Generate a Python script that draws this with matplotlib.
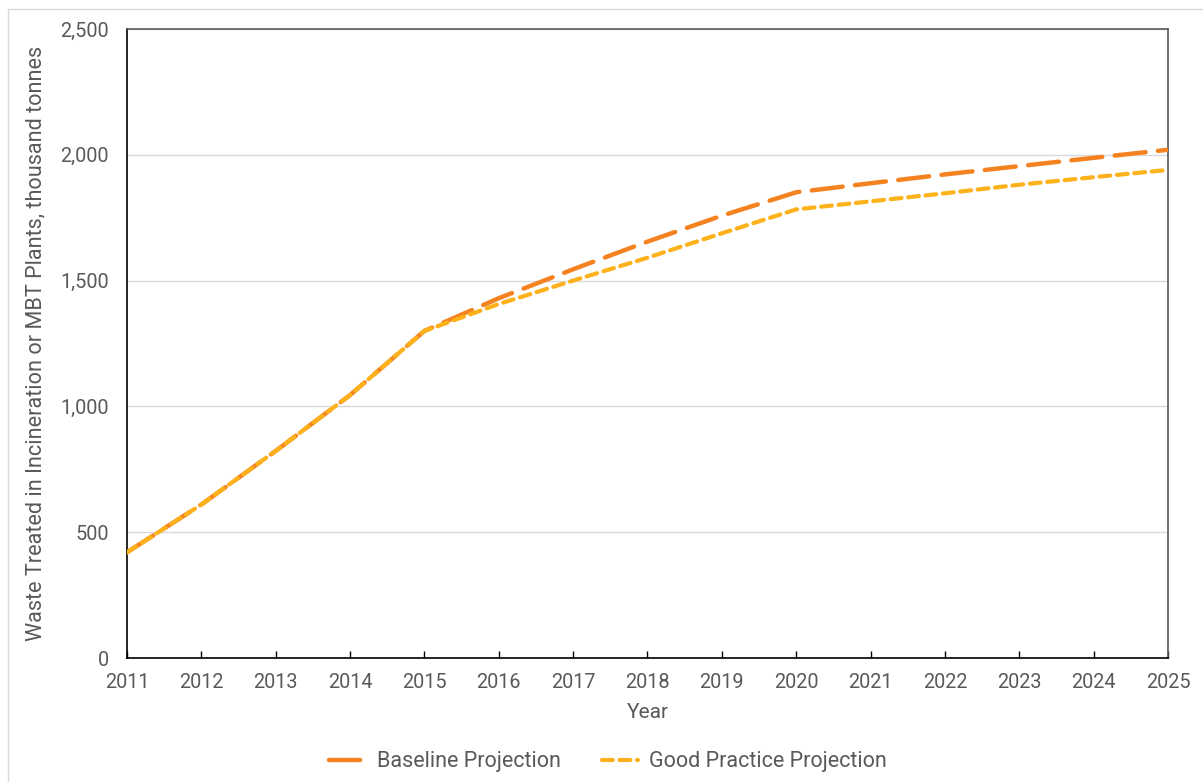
import matplotlib
matplotlib.use("Agg")
import matplotlib.pyplot as plt
from matplotlib.patches import Rectangle
from matplotlib.lines import Line2D

years = list(range(2011, 2026))
baseline = [420, 610, 823, 1045, 1300, 1430, 1545, 1655, 1758, 1851,
            1887, 1922, 1955, 1988, 2020]
good_practice = [420, 610, 823, 1045, 1300, 1407, 1500, 1591, 1688, 1783,
                 1815, 1847, 1881, 1911, 1940]
y_ticks = [0, 500, 1000, 1500, 2000, 2500]

TEXT = "#595959"
ORANGE = "#F58220"
GOLD = "#FDB11A"

plt.rcParams["font.family"] = ["Roboto", "DejaVu Sans"]

fig = plt.figure(figsize=(12.03, 7.82), dpi=100)
fig.patches.append(Rectangle((8 / 1203, -0.1), 1.2, (782 - 9) / 782 + 0.1,
                             transform=fig.transFigure, fill=False,
                             edgecolor="#D9D9D9", linewidth=1.0))

ax = fig.add_axes([127 / 1203, (782 - 658) / 782,
                   (1168 - 127) / 1203, (658 - 29) / 782])

ax.plot(years, baseline, color=ORANGE, linewidth=3.2,
        dashes=(7, 2.8), dash_capstyle="round", label="Baseline Projection",
        zorder=3)
ax.plot(years, good_practice, color=GOLD, linewidth=3.0,
        dashes=(2.6, 1.6), dash_capstyle="round",
        label="Good Practice Projection", zorder=4)

ax.set_xlim(2011, 2025)
ax.set_ylim(0, 2500)
ax.set_xticks(years)
ax.set_yticks(y_ticks)
ax.set_yticklabels([f"{v:,}" for v in y_ticks])
ax.yaxis.grid(True, color="#D9D9D9", linewidth=1.0)
ax.set_axisbelow(True)

for side in ("left", "bottom"):
    ax.spines[side].set_color("#000000")
    ax.spines[side].set_linewidth(1.2)
for side in ("top", "right"):
    ax.spines[side].set_color("#595959")
    ax.spines[side].set_linewidth(1.2)

ax.tick_params(axis="x", direction="in", length=5, width=1.0, color="#000000",
               pad=11, labelsize=14.3, labelcolor=TEXT)
ax.tick_params(axis="y", length=0, pad=13, labelsize=14.3, labelcolor=TEXT)

ax.set_xlabel("Year", fontsize=15, color=TEXT, labelpad=8)
ax.set_ylabel("Waste Treated in Incineration or MBT Plants, thousand tonnes",
              fontsize=15.6, color=TEXT, labelpad=10)

handles = [
    Line2D([0], [0], color=ORANGE, linewidth=3.2, dashes=(7, 2.8),
           dash_capstyle="round"),
    Line2D([0], [0], color=GOLD, linewidth=3.0, dashes=(2.6, 1.6),
           dash_capstyle="round"),
]
fig.legend(handles, ["Baseline Projection", "Good Practice Projection"],
           loc="center", bbox_to_anchor=(608 / 1203, 1 - 762 / 782),
           ncol=2, frameon=False, fontsize=15.5, labelcolor=TEXT,
           handlelength=1.7, columnspacing=1.9, handletextpad=0.5)

fig.savefig("out.png", dpi=100)
